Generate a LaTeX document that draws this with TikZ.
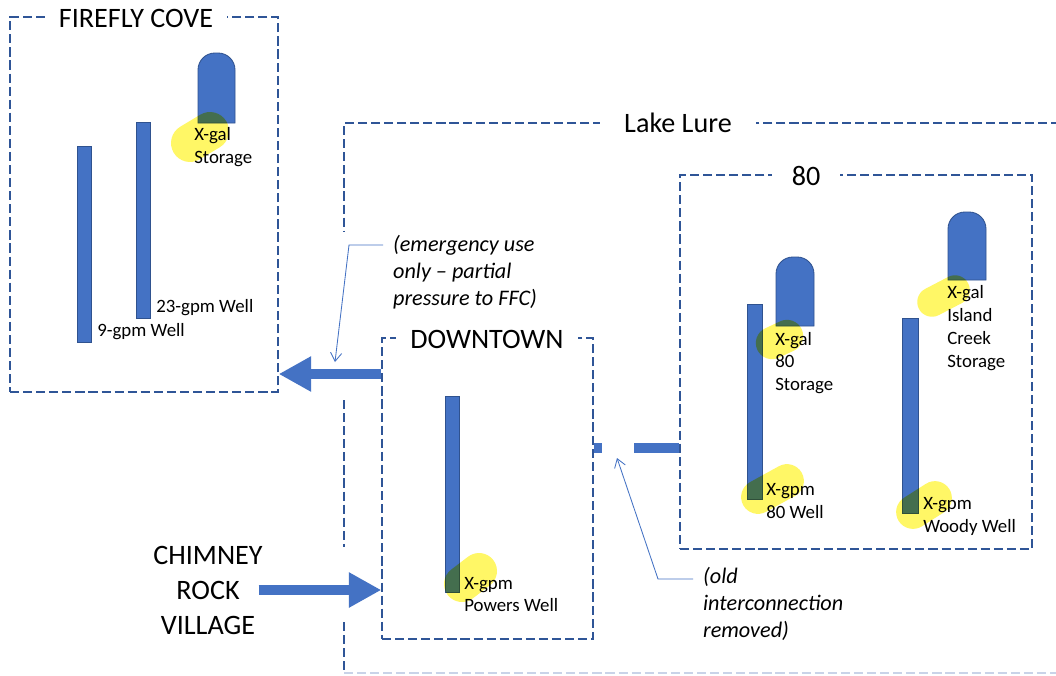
\documentclass[tikz,border=0pt]{standalone}
\usepackage{fontspec}
\setmainfont{Carlito}
\usetikzlibrary{arrows.meta,fit}
\definecolor{wellblue}{HTML}{4472C4}
\definecolor{edgeblue}{HTML}{2F528F}
\definecolor{zoneblue}{HTML}{2F5597}
\definecolor{fadeblue}{HTML}{C9D3E8}

\begin{document}
\begin{tikzpicture}[x=0.25mm,y=-0.25mm,
    zone/.style={draw=zoneblue,line width=1pt,dash pattern=on 6.5pt off 2.8pt},
    title/.style={fill=white,inner xsep=10pt,inner ysep=2pt,font=\fontsize{20}{24}\selectfont},
    lbl/.style={anchor=west,align=left,inner sep=0pt,font=\fontsize{13.4}{16.3}\selectfont},
    note/.style={anchor=west,align=left,inner xsep=7pt,inner ysep=0pt,font=\fontsize{15.8}{19.2}\selectfont\itshape},
    well/.style={fill=wellblue,draw=edgeblue,line width=0.6pt},
    hl/.style={draw=yellow,line cap=round,opacity=0.6,blend mode=multiply},
    bigarrow/.style={wellblue,line width=7.2pt,-{Triangle[length=23pt,width=23.5pt]}},
    pipe/.style={wellblue,line width=7.2pt},
    callout/.style={wellblue,line width=0.6pt,-{Straight Barb[length=6pt,width=8pt]}}]
    \fill[white] (0,0) rectangle (1056,675);
    \useasboundingbox (0,0) rectangle (1056,675);

    % zones
    \node[zone,inner sep=0pt,fit={(10,17) (278,392)}] (ffc) {};
    \node[zone,inner sep=0pt,fit={(382,338) (593,639)}] (downtown) {};
    \node[zone,inner sep=0pt,fit={(680,175) (1032,549)}] (eighty) {};
    \draw[zone] (1060,123) -- (344,123) -- (344,232);
    \draw[zone] (344,400) -- (344,547);
    \draw[zone] (344,622) -- (344,673);
    \draw[zone,draw=fadeblue] (344,673) -- (1060,673);

    \node[title] (ffctitle) at (136,18) {FIREFLY COVE};
    \node[title,inner xsep=17pt] (laketitle) at (678,123) {Lake Lure};
    \node[title] (dttitle) at (487,339) {DOWNTOWN};
    \node[title,inner xsep=14pt] (eightytitle) at (806,176) {80};

    % wells and tanks
    \draw[well] (77,146) rectangle (91,342);
    \draw[well] (136,122) rectangle (150,318);
    \draw[well] (445,396) rectangle (459,592);
    \draw[well] (747,304) rectangle (762,499);
    \draw[well] (902,318) rectangle (918,513);
    \draw[well] (198,123) [rounded corners=12pt]-- (198,53) -- (235,53) [sharp corners]-- (235,123) -- cycle;
    \draw[well] (776,326) [rounded corners=12pt]-- (776,257) -- (814,257) [sharp corners]-- (814,326) -- cycle;
    \draw[well] (948,280) [rounded corners=12pt]-- (948,212) -- (986,212) [sharp corners]-- (986,280) -- cycle;

    % highlighter marks
    \draw[hl,line width=27pt] (190,143) -- (210,131);
    \draw[hl,line width=25.6pt] (462,584) -- (479,571);
    \draw[hl,line width=23pt] (772,343) -- (787,336);
    \draw[hl,line width=24pt] (758,497) -- (787,481);
    \draw[hl,line width=24pt] (913,512) -- (935,498);
    \draw[hl,line width=21pt] (932,302) -- (955,290);

    % labels
    \node[lbl] (ffcstore) at (194,147) {X-gal\\Storage};
    \node[lbl] (well23) at (156,308) {23-gpm Well};
    \node[lbl] (well9) at (97,332) {9-gpm Well};
    \node[lbl] (powers) at (464,594.5) {X-gpm\\Powers Well};
    \node[lbl] (store80) at (775,363) {X-gal\\80\\Storage};
    \node[lbl] (well80) at (766,501) {X-gpm\\80 Well};
    \node[lbl] (island) at (947,328) {X-gal\\Island\\Creek\\Storage};
    \node[lbl] (woody) at (923,516.5) {X-gpm\\Woody Well};

    % flows
    \node[align=center,inner sep=0pt,font=\fontsize{20}{24.9}\selectfont] (crv) at (208,590) {CHIMNEY\\ROCK\\VILLAGE};
    \draw[bigarrow] ([xshift=-3pt]crv.east) -- (crv.east -| downtown.west);
    \draw[bigarrow] (downtown.west |- 0,374) -- (ffc.east |- 0,374);
    \draw[pipe] (downtown.east |- 0,448) -- ++(8,0);
    \draw[pipe] (eighty.west |- 0,448) -- ++(-45,0);

    % notes
    \coordinate (emtip) at (335,362);
    \node[note] (emnote) at (383,272) {(emergency use\\only – partial\\pressure to FFC)};
    \draw[callout] (emnote.west |- 0,245) -- (349,245) -- (emtip);
    \coordinate (oldtip) at (617,458);
    \node[note] (oldnote) at (693,604) {(old\\interconnection\\removed)};
    \draw[callout] (oldnote.west |- 0,579) -- (658,579) -- (oldtip);
\end{tikzpicture}
\end{document}
